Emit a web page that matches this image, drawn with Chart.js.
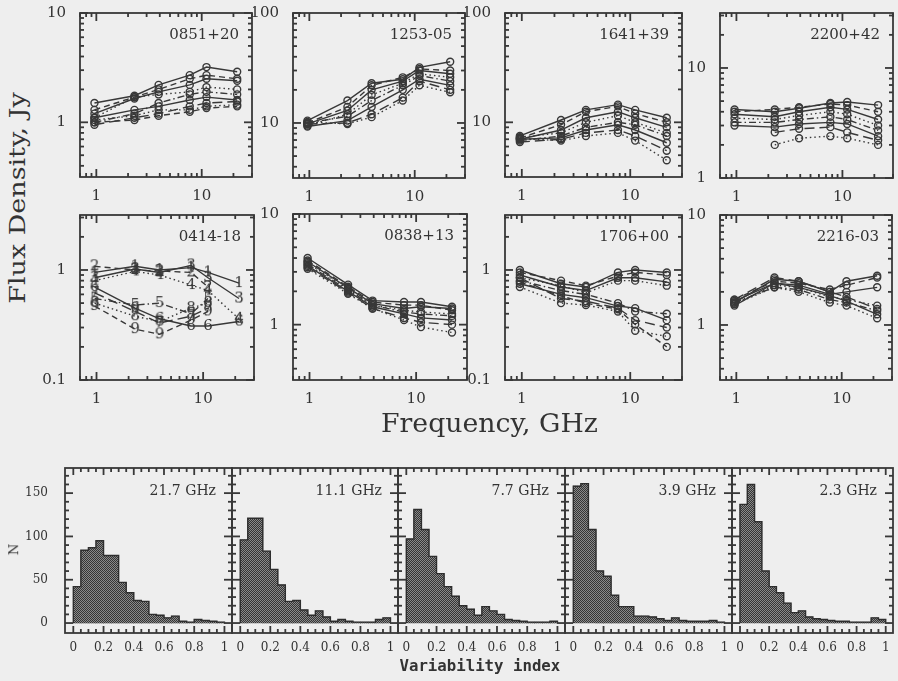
<!DOCTYPE html>
<html><head><meta charset="utf-8">
<script src="https://cdn.jsdelivr.net/npm/chart.js@4/dist/chart.umd.min.js"></script>
<style>
html,body{margin:0;padding:0;background:#eeeeee;}
body{width:898px;height:681px;position:relative;overflow:hidden;}
canvas{position:absolute;}
.t{position:absolute;white-space:nowrap;color:#333333;font-family:'DejaVu Serif';line-height:1;transform-origin:50% 50%;}
</style></head><body>
<script>
// ---------------- DATA ----------------
const freqGHz = [0.96, 2.3, 3.9, 7.7, 11.1, 21.7];

const flux0851 = [
  [1.5, 1.75, 2.2, 2.7, 3.2, 2.9],
  [1.3, 1.7, 2.0, 2.5, 2.7, 2.5],
  [1.2, 1.65, 1.9, 2.2, 2.5, 2.4],
  [1.1, 1.7, 1.8, 1.9, 2.1, 2.0],
  [1.0, 1.2, 1.5, 1.8, 1.9, 1.8],
  [1.1, 1.3, 1.4, 1.6, 1.7, 1.6],
  [0.95, 1.1, 1.2, 1.4, 1.5, 1.55],
  [1.05, 1.15, 1.3, 1.3, 1.4, 1.45],
  [1.0, 1.05, 1.15, 1.25, 1.35, 1.4]
];
const flux1253 = [
  [10.5, 16, 23, 25, 32, 36],
  [10, 14, 22, 26, 31, 30],
  [9.8, 13, 20, 24, 30, 28],
  [9.5, 12, 18, 23, 28, 26],
  [10, 11.5, 16, 22, 27, 24],
  [9.3, 10.5, 14, 20, 25, 22],
  [9.8, 10, 12, 17, 24, 20],
  [10.2, 9.8, 11.3, 16, 22, 19]
];
const flux1641 = [
  [7.5, 10.5, 13, 14.5, 13, 11],
  [7.2, 9.5, 12.5, 14, 12, 10],
  [7.0, 8.5, 11, 12.5, 11, 9],
  [7.3, 8, 10, 11.5, 10, 8],
  [6.8, 7.5, 9, 10, 9.5, 7.5],
  [7.0, 7.2, 8.5, 9.5, 8.5, 6.5],
  [6.6, 7, 8, 8.5, 7.5, 5.5],
  [7.1, 6.8, 7.5, 8, 6.8, 4.5]
];
const flux2200 = [
  [4.2, 4.0, 4.3, 4.8, 4.9, 4.6],
  [4.0, 4.2, 4.4, 4.7, 4.6, 4.0],
  [3.8, 3.6, 4.0, 4.4, 4.2, 3.4],
  [3.5, 3.4, 3.7, 4.0, 3.8, 3.0],
  [3.2, 3.2, 3.4, 3.6, 3.4, 2.7],
  [3.0, 2.9, 3.1, 3.2, 3.1, 2.4],
  [null, 2.6, 2.8, 2.9, 2.6, 2.2],
  [null, 2.0, 2.3, 2.4, 2.3, 2.0]
];
const flux0414 = [
  [0.95, 1.08, 1.0, 1.05, 0.95, 0.76],
  [1.08, 1.0, 0.98, 0.95, 0.7, null],
  [0.85, 1.02, 0.95, 1.1, 0.85, 0.55],
  [0.8, 0.97, 0.9, 0.73, 0.65, 0.36],
  [0.55, 0.48, 0.5, 0.4, 0.55, null],
  [0.7, 0.45, 0.36, 0.31, 0.31, 0.34],
  [0.62, 0.42, 0.33, 0.38, 0.45, null],
  [0.5, 0.38, 0.34, 0.45, 0.5, null],
  [0.47, 0.29, 0.26, 0.35, 0.42, null]
];
const epochDigits0414 = ['1','2','3','4','5','6','7','8','9'];
const flux0838 = [
  [4.0, 2.3, 1.65, 1.6, 1.6, 1.45],
  [3.8, 2.2, 1.6, 1.5, 1.5, 1.35],
  [3.7, 2.15, 1.55, 1.4, 1.45, 1.4],
  [3.6, 2.1, 1.5, 1.35, 1.3, 1.25],
  [3.5, 2.05, 1.5, 1.3, 1.25, 1.2],
  [3.4, 2.0, 1.45, 1.25, 1.15, 1.1],
  [3.3, 1.95, 1.4, 1.15, 1.05, 1.0],
  [3.2, 1.9, 1.4, 1.1, 0.95, 0.85]
];
const flux1706 = [
  [1.0, 0.75, 0.7, 0.95, 1.0, 0.95],
  [0.95, 0.8, 0.72, 0.88, 0.95, 0.9],
  [0.9, 0.7, 0.65, 0.85, 0.85, 0.78],
  [0.85, 0.72, 0.62, 0.8, 0.8, 0.72],
  [0.8, 0.65, 0.6, 0.5, 0.42, 0.4],
  [0.75, 0.6, 0.56, 0.47, 0.45, 0.35],
  [0.85, 0.55, 0.52, 0.45, 0.35, 0.3],
  [0.7, 0.5, 0.48, 0.42, 0.28, 0.25],
  [0.78, 0.58, 0.5, 0.44, 0.32, 0.2]
];
const flux2216 = [
  [1.6, 2.6, 2.5, 2.0, 2.5, 2.8],
  [1.7, 2.5, 2.4, 2.1, 2.3, 2.7],
  [1.65, 2.4, 2.3, 1.9, 2.0, 2.2],
  [1.55, 2.3, 2.2, 1.8, 1.7, 1.5],
  [1.6, 2.2, 2.1, 1.7, 1.6, 1.35],
  [1.5, 2.4, 2.2, 1.85, 1.65, 1.25],
  [1.7, 2.7, 2.5, 2.0, 1.8, 1.4],
  [1.55, 2.2, 2.0, 1.6, 1.5, 1.15]
];

const sourceNames = ['0851+20','1253-05','1641+39','2200+42','0414-18','0838+13','1706+00','2216-03'];
const sourceFlux = [flux0851, flux1253, flux1641, flux2200, flux0414, flux0838, flux1706, flux2216];
const fluxMin = [0.316, 3.16, 3.16, 1, 0.1, 0.316, 0.1, 0.316];
const fluxMax = [10, 100, 100, 31.6, 3.16, 10, 3.16, 10];
const freqMin = 0.7, freqMax = 30;

const varIndexBins = [0.025,0.075,0.125,0.175,0.225,0.275,0.325,0.375,0.425,0.475,0.525,0.575,0.625,0.675,0.725,0.775,0.825,0.875,0.925,0.975];
const hist21_7 = [42,84,87,95,78,78,47,35,26,25,10,9,6,8,2,1,4,3,2,1];
const hist11_1 = [96,121,121,83,62,44,25,26,15,9,14,7,2,4,2,1,1,1,4,6];
const hist7_7  = [97,131,108,77,57,42,31,20,16,9,19,14,10,4,3,2,1,1,1,2];
const hist3_9  = [158,161,108,60,54,32,19,19,8,8,7,5,3,6,3,2,2,2,3,1];
const hist2_3  = [137,160,117,60,42,35,23,12,14,7,5,4,3,2,2,1,1,1,6,4];
const histLabels = ['21.7 GHz','11.1 GHz','7.7 GHz','3.9 GHz','2.3 GHz'];
const histData = [hist21_7, hist11_1, hist7_7, hist3_9, hist2_3];

// ---------------- LAYOUT / STYLE ----------------
const specBoxes = [
  {l:80, r:252, t:13, b:177}, {l:293, r:465, t:13, b:178},
  {l:505, r:682, t:13, b:177}, {l:720, r:893, t:13, b:178},
  {l:80, r:254, t:215, b:380}, {l:293, r:467, t:214, b:380},
  {l:505, r:682, t:215, b:380}, {l:720, r:892, t:215, b:380}
];
const histBoxes = [
  {l:65, r:232, t:468, b:633}, {l:232, r:398, t:468, b:633},
  {l:398, r:565, t:468, b:633}, {l:565, r:732, t:468, b:633},
  {l:732, r:893, t:468, b:633}
];
const INK = '#383838';
const dashes = [[], [6,4], [], [1.5,3], [7,3,1.5,3], [], [10,5], [1.5,3], [6,4]];

Chart.defaults.font.family = "'DejaVu Serif'";
Chart.defaults.color = '#333333';

function frameTicks(xTicks, yTicks) {
  return {
    id: 'frameTicks',
    afterDraw(chart) {
      const ctx = chart.ctx;
      const a = chart.chartArea;
      const x = chart.scales.x, y = chart.scales.y;
      const TW = 1.8;
      ctx.save();
      ctx.fillStyle = INK;
      for (let i = 0; i < xTicks.length; i++) {
        const v = xTicks[i][0], len = xTicks[i][1];
        const p = x.getPixelForValue(v);
        if (!isFinite(p) || p < a.left - 0.5 || p > a.right + 0.5) continue;
        ctx.fillRect(p - TW / 2, a.bottom - len, TW, len);
        ctx.fillRect(p - TW / 2, a.top, TW, len);
      }
      for (let i = 0; i < yTicks.length; i++) {
        const v = yTicks[i][0], len = yTicks[i][1];
        const p = y.getPixelForValue(v);
        if (!isFinite(p) || p < a.top - 0.5 || p > a.bottom + 0.5) continue;
        ctx.fillRect(a.left, p - TW / 2, len, TW);
        ctx.fillRect(a.right - len, p - TW / 2, len, TW);
      }
      ctx.strokeStyle = INK;
      ctx.setLineDash([]);
      ctx.lineWidth = 1.8;
      ctx.strokeRect(a.left, a.top, a.right - a.left, a.bottom - a.top);
      ctx.restore();
    }
  };
}

function logTicks(min, max, majLen, minLen) {
  const out = [];
  for (let k = Math.floor(Math.log10(min)) - 1; k <= Math.ceil(Math.log10(max)); k++) {
    for (let m = 1; m <= 9; m++) {
      const v = m * Math.pow(10, k);
      if (v >= min * 0.999 && v <= max * 1.001) out.push([v, m === 1 ? majLen : minLen]);
    }
  }
  return out;
}
function decades(min, max) {
  const out = [];
  for (let k = Math.floor(Math.log10(min)) - 1; k <= Math.ceil(Math.log10(max)); k++) {
    const v = Math.pow(10, k);
    if (v >= min * 0.999 && v <= max * 1.001) out.push({value: v});
  }
  return out;
}
const fmt = v => String(+Number(v).toPrecision(3));

function makeCanvas(l, t, w, h) {
  const c = document.createElement('canvas');
  c.width = w; c.height = h;
  c.style.left = l + 'px'; c.style.top = t + 'px';
  c.style.width = w + 'px'; c.style.height = h + 'px';
  document.body.appendChild(c);
  return c;
}
function digitImage(d) {
  const c = document.createElement('canvas');
  c.width = 12; c.height = 16;
  const g = c.getContext('2d');
  g.fillStyle = INK; g.font = "15px 'DejaVu Serif'";
  g.textAlign = 'center'; g.textBaseline = 'middle';
  g.fillText(d, 6, 8.5);
  return c;
}

// ---------------- SPECTRA ----------------
const SP = {l: 40, t: 20, r: 8, b: 36};
sourceNames.forEach((name, i) => {
  const bx = specBoxes[i];
  const w = bx.r - bx.l, h = bx.b - bx.t;
  const canvas = makeCanvas(bx.l - SP.l, bx.t - SP.t, w + SP.l + SP.r, h + SP.t + SP.b);
  const digits = i === 4;
  const datasets = sourceFlux[i].map((vals, k) => ({
    data: freqGHz.map((f, j) => ({x: f, y: vals[j]})),
    borderColor: INK, borderWidth: 1.4, borderDash: dashes[k % dashes.length],
    pointStyle: digits ? digitImage(epochDigits0414[k]) : 'circle',
    pointRadius: 3.5, pointBorderWidth: 1.4,
    pointBorderColor: INK, pointBackgroundColor: 'rgba(0,0,0,0)',
    fill: false, tension: 0, spanGaps: false
  }));
  new Chart(canvas, {
    type: 'line',
    data: {datasets},
    options: {
      responsive: false, animation: false, events: [],
      layout: {padding: {top: SP.t, right: SP.r, left: 0, bottom: 0}},
      plugins: {legend: {display: false}, tooltip: {enabled: false}},
      scales: {
        x: {type: 'logarithmic', min: freqMin, max: freqMax, bounds: 'data',
            grid: {display: false}, border: {display: false},
            afterBuildTicks: s => { s.ticks = [{value: 1}, {value: 10}]; },
            afterFit: s => { s.height = SP.b; },
            ticks: {callback: v => fmt(v), font: {size: 15}, padding: 2, maxRotation: 0, autoSkip: false}},
        y: {type: 'logarithmic', min: fluxMin[i], max: fluxMax[i], bounds: 'data',
            grid: {display: false}, border: {display: false},
            afterBuildTicks: s => { s.ticks = decades(fluxMin[i], fluxMax[i]); },
            afterFit: s => { s.width = SP.l; },
            ticks: {callback: v => fmt(v), font: {size: 15}, padding: 6, autoSkip: false}}
      }
    },
    plugins: [frameTicks(logTicks(freqMin, freqMax, 8, 4), logTicks(fluxMin[i], fluxMax[i], 8, 4))]
  });
  const lab = document.createElement('div');
  lab.className = 't'; lab.textContent = name;
  lab.style.fontSize = '15px';
  lab.style.width = '150px'; lab.style.textAlign = 'right';
  lab.style.left = (bx.r - 13 - 150) + 'px';
  lab.style.top = (bx.t + 27 - 12.7) + 'px';
  document.body.appendChild(lab);
});

// ---------------- HISTOGRAMS ----------------
function hatch() {
  const c = document.createElement('canvas'); c.width = 2; c.height = 2;
  const g = c.getContext('2d');
  g.fillStyle = '#8a8a8a'; g.fillRect(0, 0, 2, 2);
  g.fillStyle = '#353535'; g.fillRect(0, 0, 1, 1); g.fillRect(1, 1, 1, 1);
  return g.createPattern(c, 'repeat');
}
const HP = {l: 45, t: 20, r: 8, b: 30};
const histXTicks = [];
for (let k = 0; k <= 20; k++) histXTicks.push([k * 0.05, k % 4 === 0 ? 7 : 4]);
const histYTicks = [];
for (let v = 0; v <= 170; v += 10) histYTicks.push([v, v % 50 === 0 ? 8 : 4]);

histData.forEach((vals, i) => {
  const bx = histBoxes[i];
  const w = bx.r - bx.l, h = bx.b - bx.t;
  const canvas = makeCanvas(bx.l - HP.l, bx.t - HP.t, w + HP.l + HP.r, h + HP.t + HP.b);
  const outline = [{x: 0, y: 0}];
  varIndexBins.forEach((c, j) => { outline.push({x: c - 0.025, y: vals[j]}); outline.push({x: c + 0.025, y: vals[j]}); });
  outline.push({x: 1, y: 0});
  new Chart(canvas, {
    type: 'bar',
    data: {datasets: [
      {type: 'line', data: outline, borderColor: '#2e2e2e', borderWidth: 1.4, pointRadius: 0,
       fill: false, tension: 0, order: 0},
      {data: varIndexBins.map((c, j) => ({x: c, y: vals[j]})),
       backgroundColor: hatch(), borderWidth: 0,
       categoryPercentage: 1, barPercentage: 1, order: 1}
    ]},
    options: {
      responsive: false, animation: false, events: [],
      layout: {padding: {top: HP.t, right: HP.r, left: 0, bottom: 0}},
      plugins: {legend: {display: false}, tooltip: {enabled: false}},
      scales: {
        x: {type: 'linear', min: -0.055, max: 1.05, offset: false,
            grid: {display: false, offset: false}, border: {display: false},
            afterBuildTicks: s => { s.ticks = [0, 0.2, 0.4, 0.6, 0.8, 1].map(v => ({value: v})); },
            afterFit: s => { s.height = HP.b; },
            ticks: {callback: v => fmt(v), font: {size: 12}, padding: 0, maxRotation: 0, autoSkip: false}},
        y: {type: 'linear', min: -11.5, max: 179,
            grid: {display: false}, border: {display: false},
            afterBuildTicks: s => { s.ticks = [0, 50, 100, 150].map(v => ({value: v})); },
            afterFit: s => { s.width = HP.l; },
            ticks: {display: i === 0, callback: v => fmt(v), font: {size: 12}, padding: 9, autoSkip: false}}
      }
    },
    plugins: [frameTicks(histXTicks, histYTicks)]
  });
  const lab = document.createElement('div');
  lab.className = 't'; lab.textContent = histLabels[i];
  lab.style.fontSize = '14px';
  lab.style.width = '150px'; lab.style.textAlign = 'right';
  lab.style.left = (bx.r - 16 - 150) + 'px';
  lab.style.top = (bx.t + 27 - 12) + 'px';
  document.body.appendChild(lab);
});

// ---------------- AXIS TITLES ----------------
function addTitle(txt, font, cx, cy, targetW, rot) {
  const d = document.createElement('div');
  d.className = 't'; d.textContent = txt; d.style.font = font; d.style.lineHeight = '1';
  document.body.appendChild(d);
  const w = d.offsetWidth, h = d.offsetHeight;
  const sx = targetW ? targetW / w : 1;
  d.style.left = (cx - w / 2) + 'px';
  d.style.top = (cy - h / 2) + 'px';
  d.style.transform = 'rotate(' + (rot || 0) + 'deg) scaleX(' + sx + ')';
}
addTitle('Flux Density, Jy', "22px 'DejaVu Serif'", 18, 198, 212, -90);
addTitle('Frequency, GHz', "26px 'DejaVu Serif'", 489, 423, 217, 0);
addTitle('N', "13px 'DejaVu Serif'", 13, 549, 0, -90);
addTitle('Variability index', "bold 16px 'DejaVu Sans Mono'", 480, 666, 161, 0);
</script>
</body></html>
